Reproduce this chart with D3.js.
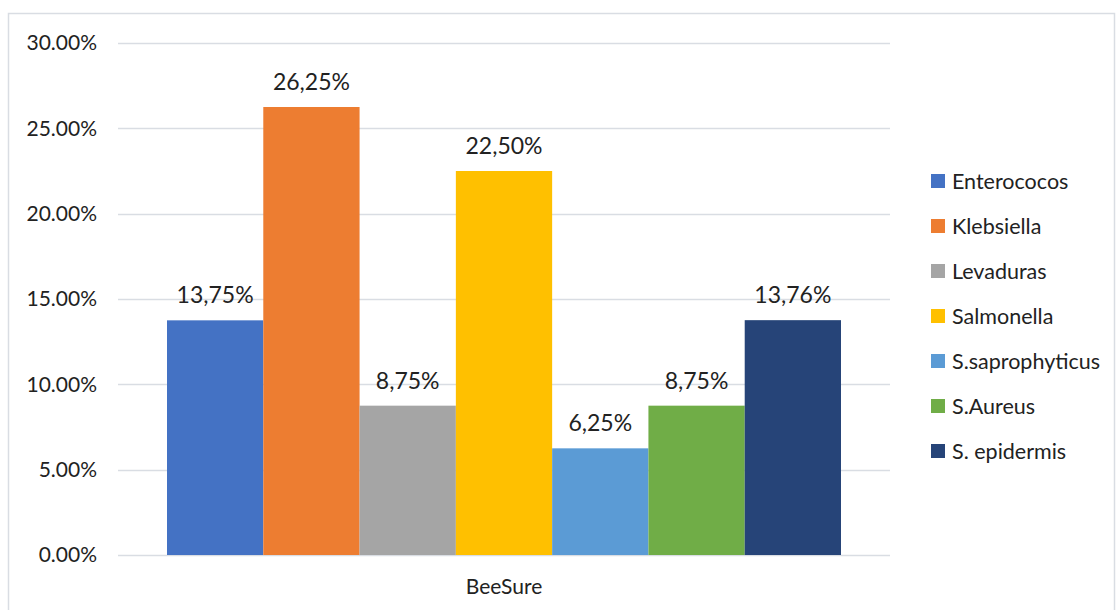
<!DOCTYPE html>
<html>
<head>
<meta charset="utf-8">
<script src="https://cdn.jsdelivr.net/npm/d3@7"></script>
<style>
  body { margin: 0; background: #fff; }
  svg { font-family: Lato, "Open Sans", sans-serif; }
</style>
</head>
<body>
<script>
var categories = ['BeeSure']
var seriesNames = ['Enterococos', 'Klebsiella', 'Levaduras', 'Salmonella', 'S.saprophyticus', 'S.Aureus', 'S. epidermis']
var seriesValues = [0.1375, 0.2625, 0.0875, 0.225, 0.0625, 0.0875, 0.1376]
var valueLabels = ['13,75%', '26,25%', '8,75%', '22,50%', '6,25%', '8,75%', '13,76%']
var yTicks = [0, 0.05, 0.10, 0.15, 0.20, 0.25, 0.30]
var colors = ['#4472c4', '#ed7d31', '#a5a5a5', '#ffc000', '#5b9bd5', '#70ad47', '#264478']

var width = 1116, height = 610
var margin = { left: 118, right: 226, top: 43, bottom: 55 }

var svg = d3.select('body').append('svg')
    .attr('width', width)
    .attr('height', height)

// chart border
svg.append('rect')
    .attr('x', 8.5).attr('y', 13.5)
    .attr('width', 1106).attr('height', 610)
    .attr('fill', 'none')
    .attr('stroke', '#d9dde3')
    .attr('stroke-width', 1.5)

var y = d3.scaleLinear()
    .domain([0, 0.30])
    .range([height - margin.bottom, margin.top])

var x0 = d3.scaleBand()
    .domain(categories)
    .range([margin.left, width - margin.right])
    .paddingInner(0)
    .paddingOuter(0.0727)

var x1 = d3.scaleBand()
    .domain(seriesNames)
    .range([0, x0.bandwidth()])

// gridlines
svg.append('g')
    .selectAll('line')
    .data(yTicks)
    .enter().append('line')
    .attr('x1', margin.left)
    .attr('x2', width - margin.right)
    .attr('y1', function (d) { return Math.round(y(d)) + 0.5 })
    .attr('y2', function (d) { return Math.round(y(d)) + 0.5 })
    .attr('stroke', '#d9dde3')
    .attr('stroke-width', 1.5)

// y axis labels
var yAxis = d3.axisLeft(y)
    .tickValues(yTicks)
    .tickFormat(d3.format('.2%'))
    .tickSize(0)
    .tickPadding(21)

svg.append('g')
    .attr('transform', 'translate(' + margin.left + ',0)')
    .call(yAxis)
    .call(function (g) { g.select('.domain').remove() })
    .selectAll('text')
    .attr('font-size', 21)
    .attr('font-family', 'Lato, "Open Sans", sans-serif')
    .attr('fill', '#222')

// x axis label
var xAxis = d3.axisBottom(x0).tickSize(0).tickPadding(24)
svg.append('g')
    .attr('transform', 'translate(0,' + y(0) + ')')
    .call(xAxis)
    .call(function (g) { g.select('.domain').remove() })
    .selectAll('text')
    .attr('font-size', 21)
    .attr('font-family', 'Lato, "Open Sans", sans-serif')
    .attr('fill', '#222')

// bars
var group = svg.append('g')
    .selectAll('g')
    .data(categories)
    .enter().append('g')
    .attr('transform', function (d) { return 'translate(' + x0(d) + ',0)' })

var bar = group.selectAll('g')
    .data(seriesNames.map(function (n, i) { return { name: n, value: seriesValues[i], label: valueLabels[i], color: colors[i] } }))
    .enter().append('g')

bar.append('rect')
    .attr('x', function (d) { return x1(d.name) })
    .attr('y', function (d) { return y(d.value) })
    .attr('width', x1.bandwidth())
    .attr('height', function (d) { return y(0) - y(d.value) })
    .attr('fill', function (d) { return d.color })

bar.append('text')
    .attr('x', function (d) { return x1(d.name) + x1.bandwidth() / 2 })
    .attr('y', function (d) { return y(d.value) - 17 })
    .attr('text-anchor', 'middle')
    .attr('font-size', 23)
    .attr('fill', '#222')
    .text(function (d) { return d.label })

// legend
var legend = svg.append('g')
    .selectAll('g')
    .data(seriesNames)
    .enter().append('g')
    .attr('transform', function (d, i) { return 'translate(931,' + (181 + i * 45) + ')' })

legend.append('rect')
    .attr('x', 0).attr('y', -7)
    .attr('width', 14).attr('height', 14)
    .attr('fill', function (d, i) { return colors[i] })

legend.append('text')
    .attr('x', 21)
    .attr('y', 0)
    .attr('dy', '0.35em')
    .attr('font-size', 21.5)
    .attr('fill', '#222')
    .text(function (d) { return d })
</script>
</body>
</html>
